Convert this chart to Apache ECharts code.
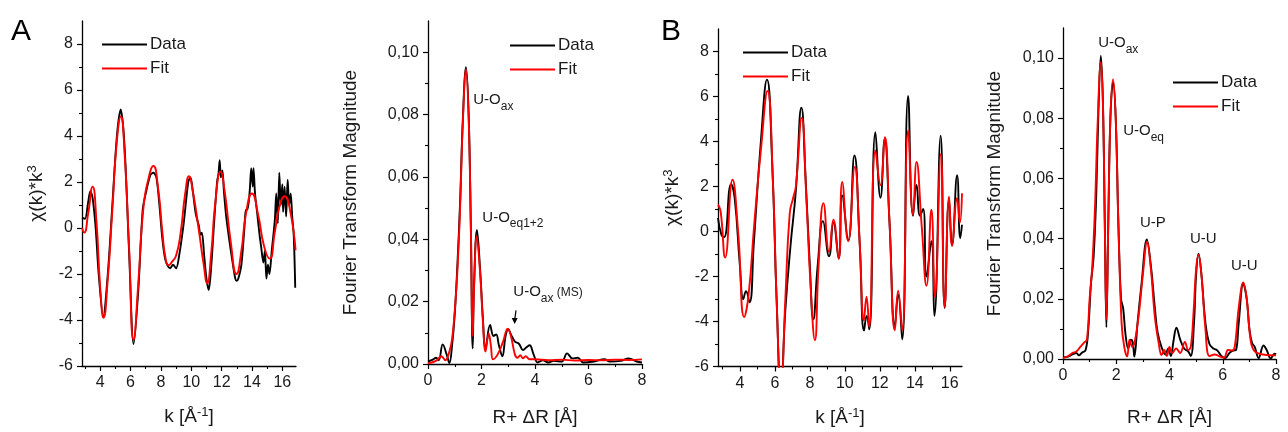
<!DOCTYPE html>
<html><head><meta charset="utf-8">
<script src="https://cdn.jsdelivr.net/npm/echarts@6/dist/echarts.min.js"></script>
<style>html,body{margin:0;padding:0;background:#fff}#c{width:1288px;height:432px}</style>
</head><body><div id="c"></div>
<script>
// ---------- DATA ----------
const chiA_data = [[2.8,0.45],[3.0,0.4],[3.2,1.1],[3.35,1.6],[3.5,1.3],[3.7,0.0],[3.9,-2.0],[4.2,-3.85],[4.5,-2.0],[4.8,1.0],[5.1,4.0],[5.35,5.15],[5.6,3.6],[5.9,-1.0],[6.2,-5.05],[6.5,-2.8],[6.8,0.8],[7.0,1.5],[7.3,2.3],[7.5,2.4],[7.7,2.2],[7.9,1.0],[8.1,-0.5],[8.3,-1.4],[8.6,-1.75],[8.8,-1.6],[9.0,-1.75],[9.2,-1.2],[9.5,0.2],[9.8,2.0],[9.95,2.2],[10.1,1.6],[10.3,0.6],[10.5,0.1],[10.6,-0.3],[10.7,-0.2],[10.85,-1.2],[11.0,-2.2],[11.15,-2.7],[11.3,-1.8],[11.5,0.2],[11.7,2.0],[11.8,2.4],[11.87,2.95],[11.95,2.2],[12.05,2.5],[12.15,1.6],[12.3,0.5],[12.5,-0.5],[12.7,-1.4],[12.9,-2.2],[13.0,-2.3],[13.1,-2.2],[13.3,-1.6],[13.5,0.0],[13.6,0.8],[13.7,0.8],[13.85,1.6],[13.95,2.6],[14.05,1.8],[14.1,2.6],[14.2,1.5],[14.35,0.6],[14.5,-0.3],[14.6,-0.8],[14.75,-1.5],[14.85,-1.0],[14.95,-2.2],[15.05,-1.6],[15.15,-2.0],[15.3,-1.0],[15.5,0.3],[15.6,1.5],[15.7,0.2],[15.8,2.4],[15.9,1.0],[16.0,1.9],[16.05,0.7],[16.15,1.8],[16.25,0.5],[16.35,2.1],[16.45,1.0],[16.55,1.5],[16.65,0.5],[16.75,-0.3],[16.85,-2.6]];
const chiA_fit = [[2.8,0.0],[2.95,-0.2],[3.2,0.6],[3.5,1.8],[3.75,0.3],[4.0,-2.6],[4.22,-3.9],[4.5,-2.2],[4.8,0.8],[5.1,3.8],[5.36,4.85],[5.6,3.3],[5.9,-0.8],[6.2,-4.85],[6.5,-2.5],[6.85,0.9],[7.2,2.2],[7.5,2.7],[7.8,1.8],[8.1,-0.2],[8.3,-1.3],[8.5,-1.62],[8.75,-1.45],[9.0,-1.2],[9.3,-0.2],[9.6,1.5],[9.85,2.25],[10.1,1.6],[10.5,-0.1],[10.8,-1.5],[11.05,-2.4],[11.3,-1.2],[11.6,1.2],[11.93,2.45],[12.2,1.6],[12.6,-0.6],[12.98,-2.0],[13.3,-1.0],[13.6,0.6],[14.0,1.5],[14.4,0.6],[14.8,-0.8],[15.17,-1.33],[15.5,-0.2],[15.8,0.9],[16.15,1.38],[16.5,0.8],[16.87,-0.97]];

const ftA_data = [[0.0,0.0008],[0.2,0.0015],[0.3,0.002],[0.4,0.0012],[0.55,0.0063],[0.7,0.003],[0.8,0.0003],[0.9,0.006],[1.0,0.016],[1.1,0.032],[1.2,0.052],[1.3,0.078],[1.42,0.0952],[1.52,0.08],[1.6,0.045],[1.67,0.005],[1.72,0.025],[1.83,0.043],[1.95,0.03],[2.05,0.015],[2.15,0.005],[2.32,0.0125],[2.45,0.009],[2.55,0.0095],[2.65,0.006],[2.78,0.0025],[2.9,0.009],[3.0,0.0112],[3.1,0.0095],[3.25,0.0072],[3.4,0.0065],[3.55,0.0045],[3.7,0.0055],[3.8,0.006],[3.95,0.003],[4.1,0.0005],[4.3,0.0012],[4.5,0.0005],[4.7,0.001],[5.0,0.0008],[5.2,0.0034],[5.4,0.0018],[5.6,0.002],[5.8,0.0005],[6.2,0.0008],[6.6,0.0015],[6.8,0.0008],[7.2,0.001],[7.5,0.0018],[7.8,0.0008],[8.0,0.0005]];
const ftA_fit = [[0.0,0.0002],[0.3,0.001],[0.5,0.0025],[0.65,0.0012],[0.8,0.004],[0.9,0.008],[1.0,0.017],[1.1,0.03],[1.2,0.05],[1.3,0.077],[1.42,0.0945],[1.52,0.079],[1.6,0.045],[1.67,0.009],[1.72,0.024],[1.82,0.041],[1.95,0.029],[2.05,0.014],[2.15,0.004],[2.27,0.0098],[2.35,0.006],[2.43,0.0015],[2.6,0.003],[2.8,0.007],[2.98,0.0113],[3.1,0.009],[3.25,0.003],[3.35,0.002],[3.45,0.0028],[3.55,0.0018],[3.65,0.0025],[3.8,0.0015],[4.0,0.0015],[4.5,0.0012],[5.0,0.0014],[5.5,0.0011],[6.0,0.0013],[6.5,0.0012],[7.0,0.0014],[7.5,0.0013],[8.0,0.0015]];

const chiB_data = [[2.75,0.6],[2.95,-0.15],[3.1,-0.25],[3.5,2.1],[3.7,1.5],[4.0,-1.5],[4.2,-3.0],[4.35,-2.65],[4.55,-3.15],[4.8,-0.5],[5.2,4.0],[5.55,6.75],[5.85,3.0],[6.1,-3.0],[6.35,-7.0],[6.6,-3.5],[6.9,-0.6],[7.2,1.8],[7.52,5.5],[7.75,2.5],[8.0,-1.5],[8.2,-3.9],[8.45,-1.5],[8.75,0.46],[9.1,-1.1],[9.35,0.4],[9.65,-1.2],[9.85,1.6],[10.2,-0.4],[10.55,3.38],[10.85,-0.5],[11.1,-4.4],[11.25,-3.75],[11.4,-4.35],[11.75,4.41],[12.04,1.5],[12.28,4.1],[12.55,0.5],[12.86,-4.2],[13.05,-2.8],[13.28,-4.8],[13.62,6.02],[13.9,0.7],[14.1,2.07],[14.3,0.7],[14.48,1.0],[14.67,-2.0],[14.95,-0.43],[15.12,-3.75],[15.48,4.26],[15.71,-3.4],[15.96,1.4],[16.13,-0.6],[16.42,2.5],[16.6,-0.3],[16.7,0.3]];
const chiB_fit = [[2.75,1.2],[2.9,0.9],[3.16,-1.16],[3.58,2.3],[3.9,0.0],[4.25,-3.8],[4.5,-2.8],[4.82,0.3],[5.2,3.6],[5.58,6.25],[5.9,2.0],[6.1,-3.0],[6.35,-7.0],[6.6,-3.0],[6.85,0.8],[7.05,1.5],[7.2,2.0],[7.54,5.05],[7.8,1.5],[8.05,-2.5],[8.29,-4.83],[8.5,-1.5],[8.78,1.26],[9.1,-0.9],[9.35,0.53],[9.65,-1.2],[9.85,2.2],[10.19,-0.43],[10.57,2.87],[10.85,-0.5],[11.09,-3.95],[11.24,-2.9],[11.39,-4.24],[11.75,3.6],[12.04,2.06],[12.29,4.19],[12.55,0.5],[12.86,-4.39],[13.05,-2.63],[13.28,-4.4],[13.62,4.48],[13.9,0.74],[14.1,3.09],[14.4,0.2],[14.67,-2.41],[14.95,0.97],[15.15,-2.9],[15.49,3.45],[15.71,-3.36],[15.96,1.55],[16.13,-0.65],[16.42,1.48],[16.58,0.4],[16.7,1.7]];

const ftB_data = [[0.0,0.0005],[0.2,0.0008],[0.35,0.0015],[0.5,0.002],[0.6,0.0012],[0.7,0.002],[0.85,0.003],[0.95,0.01],[1.05,0.025],[1.15,0.034],[1.25,0.055],[1.33,0.082],[1.42,0.1008],[1.5,0.085],[1.57,0.045],[1.63,0.0105],[1.7,0.045],[1.78,0.08],[1.88,0.092],[1.98,0.08],[2.08,0.045],[2.18,0.02],[2.26,0.0168],[2.35,0.008],[2.45,0.0035],[2.55,0.0064],[2.62,0.0055],[2.68,0.0008],[2.8,0.012],[2.95,0.025],[3.15,0.0397],[3.3,0.031],[3.45,0.017],[3.55,0.009],[3.7,0.004],[3.85,0.0015],[3.95,0.0035],[4.05,0.001],[4.15,0.006],[4.26,0.0104],[4.4,0.0065],[4.55,0.0035],[4.7,0.0025],[4.8,0.001],[4.92,0.012],[5.0,0.028],[5.09,0.035],[5.2,0.028],[5.35,0.012],[5.5,0.005],[5.65,0.0035],[5.8,0.0028],[5.95,0.001],[6.1,0.0003],[6.25,0.002],[6.4,0.0028],[6.5,0.003],[6.6,0.012],[6.77,0.025],[6.9,0.02],[7.0,0.01],[7.1,0.0053],[7.2,0.004],[7.35,0.0003],[7.53,0.0045],[7.65,0.003],[7.8,0.0002],[7.95,0.0018],[8.0,0.0015]];
const ftB_fit = [[0.0,0.0003],[0.2,0.001],[0.35,0.002],[0.5,0.0025],[0.65,0.004],[0.8,0.0055],[0.9,0.0065],[1.0,0.02],[1.1,0.031],[1.2,0.05],[1.3,0.078],[1.42,0.0987],[1.5,0.085],[1.57,0.045],[1.63,0.013],[1.7,0.045],[1.78,0.08],[1.88,0.093],[1.98,0.08],[2.08,0.045],[2.2,0.012],[2.3,0.004],[2.41,0.0008],[2.5,0.0064],[2.6,0.004],[2.7,0.006],[2.85,0.015],[3.0,0.028],[3.16,0.039],[3.3,0.03],[3.45,0.014],[3.6,0.005],[3.7,0.0013],[3.8,0.003],[3.9,0.001],[4.0,0.004],[4.1,0.002],[4.25,0.0035],[4.4,0.002],[4.58,0.0057],[4.7,0.003],[4.8,0.004],[4.9,0.015],[5.0,0.03],[5.09,0.0347],[5.2,0.028],[5.35,0.01],[5.5,0.001],[5.7,0.0015],[5.9,0.0008],[6.05,0.0005],[6.2,0.003],[6.35,0.0028],[6.45,0.004],[6.6,0.017],[6.77,0.0254],[6.9,0.02],[7.05,0.006],[7.2,0.0025],[7.5,0.0015],[8.0,0.0012]];

// tick values
const chiMajorX = [4,6,8,10,12,14,16];
const chiMinorX = [3,5,7,9,11,13,15];
const chiMajorY = [-6,-4,-2,0,2,4,6,8];
const chiMinorY = [-5,-3,-1,1,3,5,7];
const ftMajorX = [0,2,4,6,8];
const ftMinorX = [1,3,5,7];
const ftMajorY = [0,0.02,0.04,0.06,0.08,0.10];
const ftMinorY = [0.01,0.03,0.05,0.07,0.09];

// annotations: [text-rich, x, y]
const annotationsA = [
  ['{m|U-O}{s|ax}', 1.69, 0.0846],
  ['{m|U-O}{s|eq1+2}', 2.03, 0.047],
  ['{m|U-O}{s|ax}{t| (MS)}', 3.19, 0.023]
];
const arrowA = [[3.29, 0.0172], [3.24, 0.0128]];
const annotationsB = [
  ['{m|U-O}{s|ax}', 1.32, 0.1049],
  ['{m|U-O}{s|eq}', 2.26, 0.0757],
  ['{m|U-P}', 2.89, 0.0453],
  ['{m|U-U}', 4.77, 0.0399],
  ['{m|U-U}', 6.31, 0.0311]
];

// ---------- CHART ----------
const FONT = 'Arial, "Liberation Sans", sans-serif';
const TXT = '#1a1a1a';
const chart = echarts.init(document.getElementById('c'), null, {renderer: 'canvas'});

const grids = [
  {left: 82, top: 21, width: 214, height: 345},
  {left: 428, top: 21, width: 214, height: 345},
  {left: 718, top: 29, width: 244, height: 341},
  {left: 1063, top: 28, width: 213, height: 343}
];

const commaFmt = v => v.toFixed(2).replace('.', ',');
function majorAxis(gi, pos, min, max, ticks, fmt, extra) {
  return Object.assign({
    type: 'value', gridIndex: gi, position: pos, min: min, max: max,
    axisLine: {show: true, onZero: false, lineStyle: {color: '#000', width: 1.3}},
    axisTick: {show: true, inside: false, length: 5, customValues: ticks, lineStyle: {color: '#000', width: 1.2}},
    axisLabel: {show: true, customValues: ticks, formatter: fmt, color: TXT, fontSize: 16, fontFamily: FONT, margin: 9},
    splitLine: {show: false}
  }, extra || {});
}
function minorAxis(gi, pos, min, max, ticks) {
  return {
    type: 'value', gridIndex: gi, position: pos, offset: 0, min: min, max: max,
    axisLine: {show: false, onZero: false},
    axisTick: {show: true, inside: false, length: 3, customValues: ticks, lineStyle: {color: '#000', width: 1.1}},
    axisLabel: {show: false},
    splitLine: {show: false}
  };
}
const intFmt = v => String(Math.round(v));
const richTitle = {
  a: {fontSize: 19, fontFamily: FONT, color: TXT, lineHeight: 22},
  b: {fontSize: 13, fontFamily: FONT, color: TXT, verticalAlign: 'top', lineHeight: 13}
};
const chiYName = {
  name: '{a|χ(k)*k}{b|3}', nameLocation: 'middle', nameGap: 34, nameRotate: 90,
  nameTextStyle: {fontFamily: FONT, color: TXT, rich: richTitle}
};
const kName = {
  name: '{a|k [Å}{b|-1}{a|]}', nameLocation: 'middle', nameGap: 40,
  nameTextStyle: {fontFamily: FONT, color: TXT, rich: richTitle}
};
const ftYName = (gap) => ({
  name: 'Fourier Transform Magnitude', nameLocation: 'middle', nameGap: gap, nameRotate: 90,
  nameTextStyle: {fontFamily: FONT, color: TXT, fontSize: 19}
});
const rName = (gap) => ({
  name: 'R+ ΔR [Å]', nameLocation: 'middle', nameGap: gap,
  nameTextStyle: {fontFamily: FONT, color: TXT, fontSize: 19}
});

const xAxes = [
  majorAxis(0, 'bottom', 2.8, 16.9, chiMajorX, intFmt, kName),
  majorAxis(1, 'bottom', 0, 8, ftMajorX, intFmt, rName(44)),
  majorAxis(2, 'bottom', 2.75, 16.7, chiMajorX, intFmt, kName),
  majorAxis(3, 'bottom', 0, 8, ftMajorX, intFmt, rName(49)),
  minorAxis(0, 'bottom', 2.8, 16.9, chiMinorX),
  minorAxis(1, 'bottom', 0, 8, ftMinorX),
  minorAxis(2, 'bottom', 2.75, 16.7, chiMinorX),
  minorAxis(3, 'bottom', 0, 8, ftMinorX)
];
const yAxes = [
  majorAxis(0, 'left', -6, 9, chiMajorY, intFmt, chiYName),
  majorAxis(1, 'left', 0, 0.11, ftMajorY, commaFmt, ftYName(68)),
  majorAxis(2, 'left', -6, 9, chiMajorY, intFmt, chiYName),
  majorAxis(3, 'left', 0, 0.11, ftMajorY, commaFmt, ftYName(59)),
  minorAxis(0, 'left', -6, 9, chiMinorY),
  minorAxis(1, 'left', 0, 0.11, ftMinorY),
  minorAxis(2, 'left', -6, 9, chiMinorY),
  minorAxis(3, 'left', 0, 0.11, ftMinorY)
];

const BLACK = '#000000', RED = '#ff0000';
function line(name, data, axis, color, smooth) {
  return {
    name: name, type: 'line', data: data, xAxisIndex: axis, yAxisIndex: axis,
    symbol: 'none', smooth: smooth, clip: true,
    lineStyle: {color: color, width: 1.9}, itemStyle: {color: color},
    animation: false, z: color === BLACK ? 2 : 3
  };
}
const series = [
  line('Data', chiA_data, 0, BLACK, 0.3), line('Fit', chiA_fit, 0, RED, 0.55),
  line('Data', ftA_data, 1, BLACK, 0.4), line('Fit', ftA_fit, 1, RED, 0.4),
  line('Data', chiB_data, 2, BLACK, 0.5), line('Fit', chiB_fit, 2, RED, 0.5),
  line('Data', ftB_data, 3, BLACK, 0.4), line('Fit', ftB_fit, 3, RED, 0.4)
];

function legend(left, top) {
  return {
    data: ['Data', 'Fit'], orient: 'vertical', left: left, top: top, padding: 0,
    itemWidth: 45, itemHeight: 16, itemGap: 7, selectedMode: false,
    icon: 'path://M0,7 L45,7 L45,9 L0,9 Z',
    textStyle: {fontSize: 17, fontFamily: FONT, color: TXT, padding: [0, 0, 0, -2]}
  };
}

chart.setOption({
  animation: false,
  backgroundColor: '#fff',
  grid: grids,
  xAxis: xAxes,
  yAxis: yAxes,
  series: series,
  legend: [legend(102, 36), legend(510, 37), legend(743, 44), legend(1173, 74)]
});

// annotations positioned from data coordinates
const rich = {
  m: {fontSize: 15, fontFamily: FONT, fill: TXT, lineHeight: 24},
  s: {fontSize: 12, fontFamily: FONT, fill: TXT, verticalAlign: 'bottom', lineHeight: 12},
  t: {fontSize: 12, fontFamily: FONT, fill: TXT, lineHeight: 14}
};
const graphics = [];
function addAnn(list, seriesIndex) {
  list.forEach(a => {
    const p = chart.convertToPixel({seriesIndex: seriesIndex}, [a[1], a[2]]);
    graphics.push({type: 'text', x: p[0], y: p[1], z: 10,
      style: {text: a[0], rich: rich, fill: TXT, font: '15px ' + FONT, textAlign: 'left', textVerticalAlign: 'middle'}});
  });
}
addAnn(annotationsA, 3);
addAnn(annotationsB, 7);
const a0 = chart.convertToPixel({seriesIndex: 3}, arrowA[0]);
const a1 = chart.convertToPixel({seriesIndex: 3}, arrowA[1]);
graphics.push({type: 'line', z: 10, shape: {x1: a0[0], y1: a0[1], x2: a1[0], y2: a1[1] - 4}, style: {stroke: '#000', lineWidth: 1.2}});
graphics.push({type: 'polygon', z: 10, shape: {points: [[a1[0] - 3, a1[1] - 6], [a1[0] + 3, a1[1] - 6], [a1[0], a1[1]]]}, style: {fill: '#000'}});
// panel letters
graphics.push({type: 'text', left: 11, top: 17, z: 10, style: {text: 'A', font: '30px ' + FONT, fill: '#000'}});
graphics.push({type: 'text', left: 661, top: 17, z: 10, style: {text: 'B', font: '30px ' + FONT, fill: '#000'}});
chart.setOption({graphic: graphics});
</script>
</body></html>
